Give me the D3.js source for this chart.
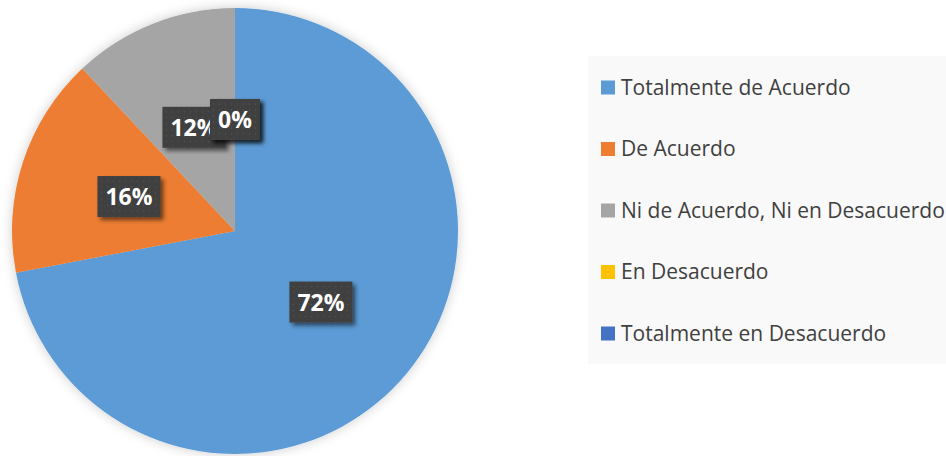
<!DOCTYPE html>
<html>
<head>
<meta charset="utf-8">
<script src="https://cdn.jsdelivr.net/npm/d3@7"></script>
<style>
  html, body { margin: 0; padding: 0; background: #fff; }
  svg { display: block; }
</style>
</head>
<body>
<div id="chart"></div>
<script>
// datos de la encuesta
const categories = ['Totalmente de Acuerdo', 'De Acuerdo', 'Ni de Acuerdo, Ni en Desacuerdo', 'En Desacuerdo', 'Totalmente en Desacuerdo'];
const values = [72, 16, 12, 0, 0];
const colors = ['#5B9BD5', '#ED7D31', '#A5A5A5', '#FFC000', '#4472C4'];

const width = 946, height = 456;
const cx = 235, cy = 231, radius = 223;

const svg = d3.select('#chart').append('svg')
    .attr('width', width)
    .attr('height', height);

const defs = svg.append('defs');

// sombra suave del pastel
defs.append('filter')
    .attr('id', 'pieShadow')
    .attr('x', '-10%').attr('y', '-10%')
    .attr('width', '120%').attr('height', '120%')
  .append('feDropShadow')
    .attr('dx', 0).attr('dy', 0)
    .attr('stdDeviation', 6)
    .attr('flood-color', '#000')
    .attr('flood-opacity', 0.2);

// sombra de las etiquetas
defs.append('filter')
    .attr('id', 'labelShadow')
    .attr('x', '-30%').attr('y', '-30%')
    .attr('width', '160%').attr('height', '160%')
  .append('feDropShadow')
    .attr('dx', 3).attr('dy', 3)
    .attr('stdDeviation', 2)
    .attr('flood-color', '#000')
    .attr('flood-opacity', 0.55);

// patron punteado del fondo de etiqueta
const pat = defs.append('pattern')
    .attr('id', 'dots')
    .attr('patternUnits', 'userSpaceOnUse')
    .attr('width', 6).attr('height', 6);
pat.append('rect').attr('width', 6).attr('height', 6).attr('fill', '#404040');
pat.append('rect').attr('x', 2).attr('y', 2).attr('width', 1).attr('height', 1).attr('fill', '#5a5a5a');

const color = d3.scaleOrdinal().domain(categories).range(colors);

const pie = d3.pie().sort(null).value(d => d.value);
const arcs = pie(categories.map((c, i) => ({ name: c, value: values[i] })));
const arc = d3.arc().innerRadius(0).outerRadius(radius);

const g = svg.append('g').attr('transform', `translate(${cx},${cy})`);

g.append('g')
    .attr('filter', 'url(#pieShadow)')
  .selectAll('path')
  .data(arcs)
  .join('path')
    .attr('d', arc)
    .attr('fill', d => color(d.data.name));

// etiquetas de porcentaje
const total = d3.sum(values);
const labels = g.selectAll('g.label')
  .data(arcs)
  .join('g')
    .attr('class', 'label')
    .attr('transform', d => `translate(${arc.centroid(d)})`);

labels.each(function(d) {
    const lg = d3.select(this);
    const txt = Math.round(d.data.value / total * 100) + '%';
    const rect = lg.append('rect').attr('fill', 'url(#dots)').attr('filter', 'url(#labelShadow)');
    const t = lg.append('text')
        .attr('text-anchor', 'middle')
        .attr('dy', '0.37em')
        .attr('fill', '#fff')
        .style('font-family', '"Open Sans", sans-serif')
        .style('font-weight', 'bold')
        .style('font-size', '23px')
        .text(txt);
    const w = t.node().getComputedTextLength() + 16;
    const h = 41;
    rect.attr('x', -w / 2).attr('y', -h / 2).attr('width', w).attr('height', h);
});

// leyenda
const legend = svg.append('g');
legend.append('rect')
    .attr('x', 588).attr('y', 56)
    .attr('width', width - 588).attr('height', 308)
    .attr('fill', '#f9f9f9');

const ly = d3.scalePoint().domain(categories).range([87, 333]);

const items = legend.selectAll('g.item')
  .data(categories)
  .join('g')
    .attr('class', 'item')
    .attr('transform', d => `translate(601,${ly(d)})`);

items.append('rect')
    .attr('x', 0).attr('y', -6.5)
    .attr('width', 14).attr('height', 14)
    .attr('fill', d => color(d));

items.append('text')
    .attr('x', 20)
    .attr('y', 7.5)
    .attr('fill', '#404040')
    .style('font-family', '"Open Sans", sans-serif')
    .style('font-size', '21px')
    .text(d => d);
</script>
</body>
</html>
